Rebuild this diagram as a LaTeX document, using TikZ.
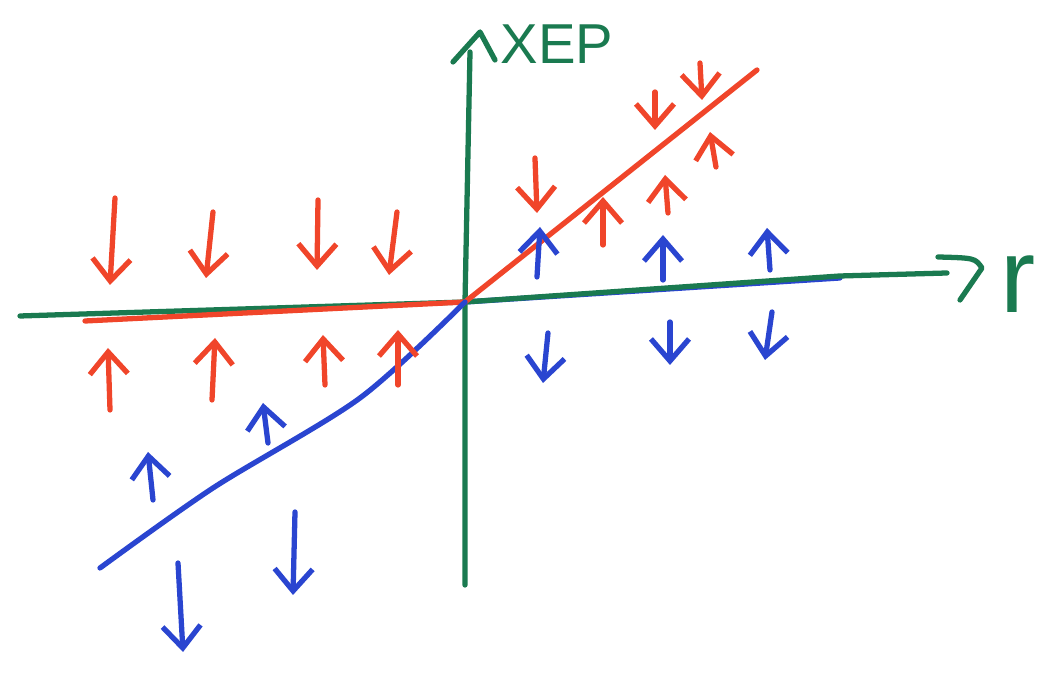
\documentclass[tikz,border=0pt]{standalone}
\usepackage{fontspec}
\setsansfont{Liberation Sans}
\usetikzlibrary{arrows.meta}
\definecolor{penred}{HTML}{F0452A}
\definecolor{penblue}{HTML}{2A45D0}
\definecolor{pengreen}{HTML}{1A7A50}
\tikzset{pen/.style={line width=1.5pt,line cap=round,line join=round},
         axisline/.style={pen,pengreen},
         redline/.style={pen,penred},
         blueline/.style={pen,penblue},
         redarr/.style={redline,-{Straight Barb[length=2.2mm,width=3.8mm]}},
         bluearr/.style={blueline,-{Straight Barb[length=2.2mm,width=3.8mm]}},
         axlabel/.style={pengreen,font=\sffamily\fontsize{16}{16}\selectfont}}

\begin{document}
\begin{tikzpicture}[x=0.01cm,y=-0.01cm]
  \useasboundingbox (0,0) rectangle (1056,674);
  \coordinate (o) at (465,302);
  % axes
  \draw[axisline] (465,585) -- (o) -- (470,52);
  \draw[axisline] (453,62) -- (480,32) -- (495,60);
  \node[axlabel] (xep) at (557,44) {XEP};
  \draw[blueline] (o) -- (840,278);
  \draw[axisline] (20,316) -- (o) -- (840,276) -- (947,273);
  \draw[axisline] (938,257) .. controls (975,258) .. (982,268) -- (960,300);
  \node[axlabel,font=\sffamily\fontsize{30}{30}\selectfont] (r) at (1018,284) {r};
  % branches
  \draw[redline] (85,321) -- (o) -- (757,70);
  \draw[blueline] plot[smooth,tension=0.5] coordinates {(100,568) (213,488) (360,398) (o)};
  % flow on the left
  \foreach \a/\b/\c/\d in {115/198/110/285, 213/212/206/278, 318/200/317/270, 397/212/389/275}
    \draw[redarr] (\a,\b) -- (\c,\d);
  \foreach \a/\b/\c/\d in {110/410/108/348, 212/400/215/338, 325/385/323/335, 398/385/398/330}
    \draw[redarr] (\a,\b) -- (\c,\d);
  \foreach \a/\b/\c/\d in {153/500/148/452, 268/443/263/403}
    \draw[bluearr] (\a,\b) -- (\c,\d);
  \foreach \a/\b/\c/\d in {178/563/183/652, 295/512/293/595}
    \draw[bluearr] (\a,\b) -- (\c,\d);
  % flow on the right
  \foreach \a/\b/\c/\d in {535/158/537/213, 655/92/655/130, 700/63/702/100}
    \draw[redarr] (\a,\b) -- (\c,\d);
  \foreach \a/\b/\c/\d in {603/245/603/197, 668/213/665/175, 716/167/710/132}
    \draw[redarr] (\a,\b) -- (\c,\d);
  \foreach \a/\b/\c/\d in {537/277/540/227, 663/280/663/235, 770/270/767/228}
    \draw[bluearr] (\a,\b) -- (\c,\d);
  \foreach \a/\b/\c/\d in {548/333/543/383, 670/322/670/365, 772/312/765/360}
    \draw[bluearr] (\a,\b) -- (\c,\d);
\end{tikzpicture}
\end{document}
